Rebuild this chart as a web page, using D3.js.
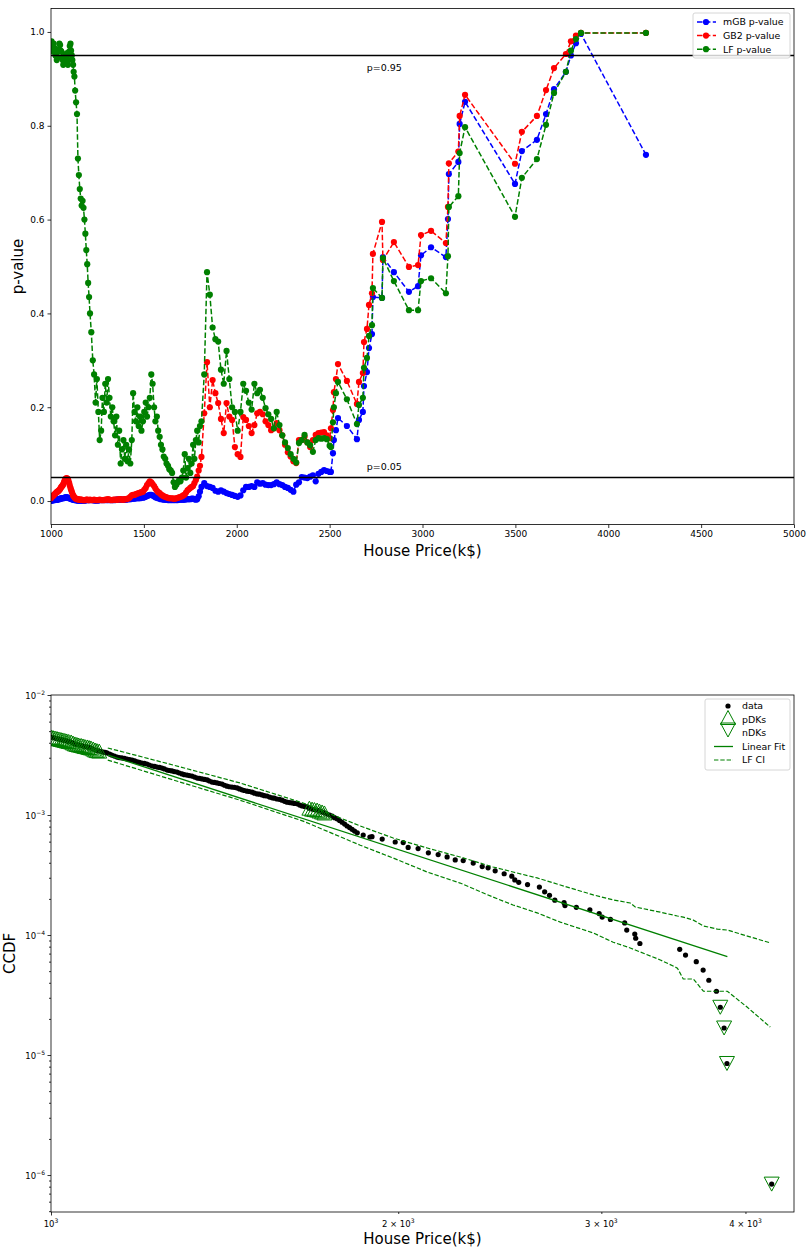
<!DOCTYPE html>
<html>
<head>
<meta charset="utf-8">
<script src="https://cdn.jsdelivr.net/npm/d3@7"></script>
<style>
  body { margin: 0; background: #fff; }
  svg { font-family: "DejaVu Sans", sans-serif; }
</style>
</head>
<body>
<svg id="chart" width="808" height="1249"></svg>
<script>
// ---------- top panel: p-value against threshold ----------
const thresholds = [
  1000, 1003, 1007, 1010, 1014, 1017, 1021, 1024, 1028, 1031,
  1035, 1038, 1042, 1045, 1049, 1052, 1056, 1059, 1063, 1066,
  1070, 1073, 1077, 1080, 1084, 1087, 1091, 1094, 1098, 1101,
  1105, 1108, 1112, 1115, 1119, 1122, 1126,
  1130, 1135, 1140, 1145, 1150, 1155, 1160, 1165, 1170, 1175,
  1180, 1185, 1190, 1195, 1200, 1205,
  1210, 1217, 1225, 1232, 1240, 1247, 1255, 1262, 1270, 1277,
  1285, 1292, 1300, 1307, 1315, 1322, 1330, 1337, 1345, 1352,
  1360, 1367, 1375, 1382, 1390, 1397, 1405, 1412, 1420, 1427,
  1435, 1442, 1450, 1457, 1465, 1472, 1480, 1487, 1495, 1502,
  1510, 1517, 1525, 1532, 1540, 1547, 1555, 1562, 1570, 1577,
  1585, 1592, 1600, 1607, 1615, 1622, 1630, 1637, 1645, 1652,
  1660, 1667, 1675, 1682, 1690, 1697, 1705, 1712, 1720, 1727,
  1735, 1742, 1750, 1757, 1765, 1772, 1780, 1787, 1795, 1802,
  1810, 1825, 1840, 1855, 1870, 1885, 1900, 1915, 1930, 1945,
  1960, 1975, 1990, 2005, 2020, 2035, 2050, 2065, 2080, 2095,
  2110, 2125, 2140, 2155, 2170, 2185, 2200, 2215, 2230, 2245,
  2260, 2275, 2290, 2305, 2320, 2335, 2350, 2365, 2380, 2395,
  2410, 2425, 2440, 2455, 2470, 2485, 2500,
  2507, 2518, 2523, 2534, 2545, 2593, 2647, 2658, 2679, 2685,
  2701, 2712, 2728, 2733, 2782, 2787, 2846, 2927, 2976, 2992,
  3046, 3126, 3137, 3142, 3193, 3200, 3229, 3498, 3535, 3616,
  3665, 3708, 3772, 3799, 3826, 3853, 4203
];

const pMGB = [
  0.001, 0.001, 0.001, 0.002, 0.002, 0.002, 0.002, 0.003, 0.003, 0.003,
  0.003, 0.004, 0.004, 0.004, 0.005, 0.005, 0.006, 0.006, 0.006, 0.006,
  0.007, 0.007, 0.008, 0.008, 0.008, 0.008, 0.007, 0.007, 0.006, 0.006,
  0.005, 0.005, 0.004, 0.004, 0.003, 0.003, 0.002,
  0.002, 0.002, 0.001, 0.001, 0.001, 0.001, 0.001, 0.001, 0.001, 0.001,
  0.001, 0.001, 0.002, 0.002, 0.002, 0.002,
  0.002, 0.002, 0.002, 0.001, 0.001, 0.001, 0.001, 0.002, 0.002, 0.002,
  0.002, 0.002, 0.002, 0.002, 0.002, 0.002, 0.002, 0.002, 0.002, 0.003,
  0.003, 0.003, 0.003, 0.003, 0.003, 0.003, 0.003, 0.004, 0.004, 0.004,
  0.005, 0.005, 0.005, 0.006, 0.006, 0.006, 0.006, 0.007, 0.007, 0.008,
  0.009, 0.011, 0.012, 0.013, 0.013, 0.012, 0.010, 0.008, 0.007, 0.006,
  0.005, 0.004, 0.004, 0.003, 0.003, 0.003, 0.002, 0.002, 0.002, 0.002,
  0.002, 0.002, 0.002, 0.002, 0.003, 0.003, 0.003, 0.003, 0.003, 0.004,
  0.004, 0.004, 0.004, 0.005, 0.005, 0.004, 0.003, 0.004, 0.010, 0.020,
  0.030, 0.038, 0.032, 0.030, 0.028, 0.022, 0.020, 0.023, 0.020, 0.017,
  0.015, 0.013, 0.011, 0.009, 0.012, 0.023, 0.030, 0.030, 0.032, 0.030,
  0.040, 0.037, 0.038, 0.035, 0.034, 0.034, 0.036, 0.040, 0.036, 0.034,
  0.030, 0.028, 0.024, 0.020, 0.035, 0.040, 0.051, 0.050, 0.049, 0.052,
  0.055, 0.042, 0.058, 0.062, 0.066, 0.064, 0.062,
  0.062, 0.102, 0.130, 0.151, 0.177, 0.160, 0.132, 0.173, 0.190, 0.245,
  0.275, 0.326, 0.356, 0.435, 0.433, 0.520, 0.488, 0.446, 0.458, 0.524,
  0.541, 0.520, 0.601, 0.697, 0.723, 0.804, 0.851, 0.676, 0.746, 0.770,
  0.825, 0.878, 0.915, 0.950, 0.976, 0.996, 0.738
];

const pGB2 = [
  0.006, 0.008, 0.010, 0.011, 0.012, 0.014, 0.015, 0.016, 0.018, 0.019,
  0.020, 0.021, 0.022, 0.024, 0.025, 0.028, 0.030, 0.032, 0.033, 0.036,
  0.040, 0.043, 0.046, 0.048, 0.049, 0.048, 0.047, 0.043, 0.038, 0.033,
  0.028, 0.024, 0.020, 0.016, 0.012, 0.010, 0.008,
  0.006, 0.005, 0.004, 0.004, 0.003, 0.003, 0.003, 0.003, 0.002, 0.002,
  0.002, 0.002, 0.003, 0.003, 0.002, 0.002,
  0.003, 0.002, 0.002, 0.003, 0.002, 0.002, 0.002, 0.003, 0.002, 0.002,
  0.002, 0.003, 0.003, 0.004, 0.003, 0.002, 0.002, 0.003, 0.003, 0.003,
  0.003, 0.004, 0.004, 0.003, 0.003, 0.004, 0.004, 0.005, 0.006, 0.009,
  0.012, 0.013, 0.013, 0.015, 0.016, 0.017, 0.018, 0.019, 0.020, 0.024,
  0.028, 0.034, 0.038, 0.042, 0.040, 0.036, 0.032, 0.027, 0.022, 0.019,
  0.017, 0.014, 0.012, 0.010, 0.009, 0.008, 0.007, 0.006, 0.006, 0.006,
  0.005, 0.005, 0.006, 0.007, 0.008, 0.009, 0.010, 0.012, 0.014, 0.018,
  0.023, 0.025, 0.028, 0.030, 0.032, 0.038, 0.045, 0.052, 0.065, 0.075,
  0.094, 0.187, 0.296, 0.200, 0.258, 0.230, 0.209, 0.175, 0.145, 0.209,
  0.180, 0.173, 0.115, 0.100, 0.094, 0.179, 0.173, 0.160, 0.145, 0.162,
  0.187, 0.190, 0.185, 0.170, 0.162, 0.151, 0.155, 0.166, 0.151, 0.140,
  0.120, 0.104, 0.095, 0.085, 0.081, 0.130, 0.130, 0.137, 0.125, 0.115,
  0.130, 0.141, 0.145, 0.146, 0.147, 0.140, 0.134,
  0.155, 0.194, 0.232, 0.260, 0.292, 0.256, 0.207, 0.254, 0.273, 0.339,
  0.367, 0.418, 0.443, 0.527, 0.595, 0.514, 0.552, 0.499, 0.503, 0.567,
  0.576, 0.550, 0.627, 0.720, 0.745, 0.821, 0.866, 0.719, 0.787, 0.821,
  0.876, 0.923, 0.953, 0.980, 0.992, 0.998, 0.998
];

const pLF = [
  0.972, 0.980, 0.968, 0.958, 0.975, 0.962, 0.965, 0.950, 0.955, 0.940,
  0.945, 0.958, 0.962, 0.975, 0.972, 0.960, 0.958, 0.945, 0.940, 0.930,
  0.935, 0.945, 0.952, 0.935, 0.945, 0.955, 0.930, 0.940, 0.958, 0.970,
  0.975, 0.960, 0.950, 0.940, 0.930, 0.915, 0.905,
  0.875, 0.850, 0.825, 0.730, 0.695, 0.665, 0.645, 0.630, 0.640, 0.625,
  0.600, 0.570, 0.535, 0.505, 0.465, 0.435,
  0.400, 0.360, 0.300, 0.270, 0.210, 0.260, 0.190, 0.130, 0.150, 0.220,
  0.190, 0.250, 0.210, 0.260, 0.220, 0.180, 0.200, 0.170, 0.140, 0.180,
  0.120, 0.150, 0.080, 0.110, 0.130, 0.090, 0.120, 0.085, 0.110, 0.080,
  0.130, 0.230, 0.190, 0.170, 0.200, 0.160, 0.180, 0.150, 0.170, 0.190,
  0.210, 0.180, 0.200, 0.220, 0.270, 0.250, 0.200, 0.170, 0.180, 0.150,
  0.137, 0.120, 0.110, 0.095, 0.090, 0.080, 0.075, 0.068, 0.065, 0.060,
  0.040, 0.030, 0.035, 0.040, 0.045, 0.042, 0.050, 0.065, 0.100, 0.050,
  0.070, 0.090, 0.060, 0.080, 0.120, 0.090, 0.130, 0.150, 0.125, 0.160,
  0.170, 0.270, 0.488, 0.440, 0.370, 0.345, 0.340, 0.280, 0.250, 0.320,
  0.260, 0.200, 0.190, 0.150, 0.190, 0.250, 0.235, 0.210, 0.195, 0.250,
  0.230, 0.237, 0.220, 0.198, 0.185, 0.175, 0.155, 0.190, 0.162, 0.140,
  0.125, 0.113, 0.100, 0.090, 0.082, 0.124, 0.130, 0.141, 0.125, 0.119,
  0.105, 0.130, 0.134, 0.133, 0.134, 0.132, 0.118,
  0.115, 0.168, 0.200, 0.230, 0.254, 0.217, 0.164, 0.205, 0.220, 0.284,
  0.305, 0.352, 0.375, 0.454, 0.433, 0.518, 0.469, 0.407, 0.407, 0.469,
  0.475, 0.443, 0.522, 0.627, 0.650, 0.742, 0.797, 0.606, 0.689, 0.729,
  0.802, 0.870, 0.915, 0.960, 0.985, 0.998, 0.998
];

const priceTicks = [1000, 1500, 2000, 2500, 3000, 3500, 4000, 4500, 5000];
const pTicks = [0.0, 0.2, 0.4, 0.6, 0.8, 1.0];
const pLines = [0.95, 0.05];

// ---------- bottom panel: CCDF ----------
const ccdfX = [
  1000, 1004, 1008, 1012, 1016, 1020, 1024, 1028, 1032, 1036,
  1041, 1045, 1049, 1053, 1057, 1062, 1066, 1070, 1075, 1079,
  1083, 1088, 1092, 1096, 1101, 1105, 1110, 1114, 1118, 1124,
  1129, 1135, 1141, 1146, 1152, 1158, 1164, 1170, 1176, 1182,
  1188, 1193, 1199, 1205, 1211, 1217, 1224, 1230, 1236, 1242,
  1248, 1254, 1261, 1267, 1273, 1279, 1286, 1292, 1299, 1305,
  1312, 1318, 1325, 1332, 1339, 1345, 1352, 1359, 1366, 1372,
  1379, 1386, 1393, 1400, 1407, 1414, 1421, 1428, 1435, 1442,
  1450, 1457, 1464, 1471, 1479, 1486, 1494, 1501, 1509, 1516,
  1524, 1531, 1539, 1547, 1555, 1562, 1570, 1578, 1586, 1594,
  1602, 1610, 1618, 1626, 1635, 1643, 1651, 1659, 1667, 1675,
  1684, 1692, 1701, 1709, 1718, 1726, 1735, 1744, 1753, 1761,
  1770, 1779, 1788, 1797, 1806, 1815, 1824, 1833, 1843, 1865,
  1890, 1898, 1937, 1988, 2020, 2040, 2081, 2124, 2166, 2205,
  2241, 2277, 2323, 2365, 2393, 2427, 2471, 2509, 2524, 2544,
  2589, 2651, 2679, 2705, 2734, 2785, 2790, 2854, 2932, 2987,
  3005, 3055, 3143, 3156, 3207, 3213, 3240, 3508, 3549, 3626,
  3676, 3718, 3775, 3804, 3833, 3855, 4215
];
const ccdfY = [
  4.47e-3, 4.42e-3, 4.38e-3, 4.34e-3, 4.30e-3, 4.26e-3, 4.22e-3, 4.18e-3, 4.14e-3, 4.10e-3,
  4.06e-3, 3.98e-3, 3.91e-3, 3.87e-3, 3.83e-3, 3.80e-3, 3.76e-3, 3.72e-3, 3.69e-3, 3.65e-3,
  3.62e-3, 3.55e-3, 3.48e-3, 3.44e-3, 3.41e-3, 3.38e-3, 3.35e-3, 3.32e-3, 3.29e-3, 3.22e-3,
  3.16e-3, 3.10e-3, 3.04e-3, 3.01e-3, 2.99e-3, 2.96e-3, 2.93e-3, 2.90e-3, 2.87e-3, 2.82e-3,
  2.77e-3, 2.74e-3, 2.71e-3, 2.69e-3, 2.66e-3, 2.61e-3, 2.56e-3, 2.54e-3, 2.51e-3, 2.49e-3,
  2.46e-3, 2.42e-3, 2.37e-3, 2.35e-3, 2.33e-3, 2.30e-3, 2.28e-3, 2.24e-3, 2.20e-3, 2.17e-3,
  2.15e-3, 2.13e-3, 2.11e-3, 2.07e-3, 2.03e-3, 2.02e-3, 2.00e-3, 1.98e-3, 1.96e-3, 1.92e-3,
  1.88e-3, 1.87e-3, 1.85e-3, 1.83e-3, 1.81e-3, 1.77e-3, 1.74e-3, 1.72e-3, 1.71e-3, 1.70e-3,
  1.68e-3, 1.65e-3, 1.62e-3, 1.60e-3, 1.58e-3, 1.57e-3, 1.55e-3, 1.52e-3, 1.50e-3, 1.49e-3,
  1.47e-3, 1.45e-3, 1.44e-3, 1.41e-3, 1.39e-3, 1.38e-3, 1.36e-3, 1.35e-3, 1.33e-3, 1.30e-3,
  1.28e-3, 1.27e-3, 1.26e-3, 1.25e-3, 1.24e-3, 1.21e-3, 1.19e-3, 1.18e-3, 1.17e-3, 1.14e-3,
  1.12e-3, 1.11e-3, 1.10e-3, 1.08e-3, 1.06e-3, 1.04e-3, 1.02e-3, 1.00e-3, 9.8e-4, 9.5e-4,
  9.3e-4, 9.0e-4, 8.7e-4, 8.4e-4, 8.1e-4, 7.85e-4, 7.6e-4, 7.35e-4, 7.1e-4, 6.8e-4,
  6.56e-4, 6.6e-4, 6.3e-4, 5.96e-4, 5.89e-4, 5.37e-4, 5.25e-4, 4.84e-4, 4.68e-4, 4.47e-4,
  4.22e-4, 4.17e-4, 3.98e-4, 3.72e-4, 3.63e-4, 3.43e-4, 3.24e-4, 3.09e-4, 2.88e-4, 2.75e-4,
  2.63e-4, 2.51e-4, 2.29e-4, 2.14e-4, 1.95e-4, 1.86e-4, 1.76e-4, 1.70e-4, 1.62e-4, 1.51e-4,
  1.41e-4, 1.35e-4, 1.26e-4, 1.10e-4, 1.02e-4, 9.4e-5, 8.5e-5, 7.6e-5, 6.8e-5, 6.0e-5,
  5.1e-5, 4.2e-5, 3.4e-5, 2.5e-5, 1.68e-5, 8.5e-6, 8.4e-7
];

// points flagged as DKs (subset of the data above)
const pdkX = [1000, 1004, 1008, 1012, 1016, 1020, 1024, 1028, 1032, 1036,
  1041, 1045, 1049, 1053, 1057, 1062, 1066, 1070, 1075, 1079,
  1083, 1088, 1092, 1096, 1101,
  1675, 1684, 1692, 1701, 1709, 1718, 1726];
const ndkX = [3804, 3833, 3855, 4215];

const fitX = [1120, 3858];
const fitY = [3.16e-3, 6.6e-5];

const ciX = [1120, 1276, 1458, 1654, 1854, 1980, 2119, 2263, 2417, 2515,
  2639, 2764, 2952, 3072, 3178, 3210, 3375, 3492, 3533, 3605,
  3678, 3782, 3858, 4015, 4203];
const ciUpper = [3.62e-3, 2.61e-3, 1.85e-3, 1.26e-3, 8.1e-4, 6.43e-4, 5.31e-4, 4.47e-4, 3.69e-4, 3.35e-4,
  2.99e-4, 2.61e-4, 2.16e-4, 1.96e-4, 1.85e-4, 1.71e-4, 1.55e-4, 1.44e-4, 1.41e-4, 1.33e-4,
  1.19e-4, 1.12e-4, 1.10e-4, 9.8e-5, 8.6e-5];
const ciLower = [2.87e-3, 1.96e-3, 1.33e-3, 8.9e-4, 5.6e-4, 4.38e-4, 3.35e-4, 2.71e-4, 2.07e-4, 1.78e-4,
  1.53e-4, 1.28e-4, 1.04e-4, 8.7e-5, 7.8e-5, 7.5e-5, 6.2e-5, 5.3e-5, 4.3e-5, 4.3e-5,
  3.4e-5, 3.4e-5, 3.4e-5, 2.5e-5, 1.71e-5];

const ccdfMajor = [1e-2, 1e-3, 1e-4, 1e-5, 1e-6];
const priceLogTicks = [1000, 2000, 3000, 4000];
const priceLogLabels = [['10', '3'], ['2 \u00d7 10', '3'], ['3 \u00d7 10', '3'], ['4 \u00d7 10', '3']];

const GREEN = '#008000';
const svg = d3.select('#chart');

// =================== top panel ===================
const a1 = { left: 51, right: 794, top: 8.5, bottom: 524.5 };
const x1 = d3.scaleLinear().domain([1000, 5000]).range([a1.left, a1.right]);
const y1 = d3.scaleLinear().domain([-0.05, 1.05]).range([a1.bottom, a1.top]);

svg.append('clipPath').attr('id', 'clip1').append('rect')
  .attr('x', a1.left).attr('y', a1.top)
  .attr('width', a1.right - a1.left).attr('height', a1.bottom - a1.top);

const g1 = svg.append('g');

const xAxis1 = g1.append('g')
  .attr('transform', 'translate(0,' + a1.bottom + ')')
  .call(d3.axisBottom(x1).tickValues(priceTicks).tickSize(3.5).tickPadding(3).tickFormat(d3.format('d')));
const yAxis1 = g1.append('g')
  .attr('transform', 'translate(' + a1.left + ',0)')
  .call(d3.axisLeft(y1).tickValues(pTicks).tickSize(3.5).tickPadding(3).tickFormat(d3.format('.1f')));
[xAxis1, yAxis1].forEach(function(ax) {
  ax.select('.domain').remove();
  ax.selectAll('text').attr('font-size', 9).attr('fill', '#000').attr('font-family', 'DejaVu Sans');
  ax.selectAll('line').attr('stroke', '#000').attr('stroke-width', 0.8);
});

const plot1 = g1.append('g').attr('clip-path', 'url(#clip1)');

const series = [
  { name: 'mGB p-value', values: pMGB, color: '#0000ff' },
  { name: 'GB2 p-value', values: pGB2, color: '#ff0000' },
  { name: 'LF p-value', values: pLF, color: GREEN }
];

const line1 = d3.line()
  .x(function(d) { return x1(d[0]); })
  .y(function(d) { return y1(d[1]); });

series.forEach(function(s) {
  const pts = thresholds.map(function(t, i) { return [t, s.values[i]]; });
  plot1.append('path')
    .datum(pts)
    .attr('d', line1)
    .attr('fill', 'none')
    .attr('stroke', s.color)
    .attr('stroke-width', 1.5)
    .attr('stroke-dasharray', '5.5,2.4');
  plot1.append('g').selectAll('circle')
    .data(pts)
    .enter()
    .append('circle')
    .attr('cx', function(d) { return x1(d[0]); })
    .attr('cy', function(d) { return y1(d[1]); })
    .attr('r', 3.1)
    .attr('fill', s.color);
});

// significance lines
plot1.selectAll('line.sig')
  .data(pLines)
  .enter()
  .append('line')
  .attr('class', 'sig')
  .attr('x1', a1.left).attr('x2', a1.right)
  .attr('y1', function(d) { return y1(d); })
  .attr('y2', function(d) { return y1(d); })
  .attr('stroke', '#000')
  .attr('stroke-width', 1.5);

g1.append('text').attr('x', x1(2700)).attr('y', y1(0.917))
  .attr('font-size', 9.5).text('p=0.95');
g1.append('text').attr('x', x1(2700)).attr('y', y1(0.066))
  .attr('font-size', 9.5).text('p=0.05');

g1.append('rect')
  .attr('x', a1.left).attr('y', a1.top)
  .attr('width', a1.right - a1.left).attr('height', a1.bottom - a1.top)
  .attr('fill', 'none').attr('stroke', '#000').attr('stroke-width', 0.8);

g1.append('text')
  .attr('x', (a1.left + a1.right) / 2).attr('y', 556)
  .attr('text-anchor', 'middle').attr('font-size', 15)
  .text('House Price(k$)');
g1.append('text')
  .attr('transform', 'translate(23,' + ((a1.top + a1.bottom) / 2) + ') rotate(-90)')
  .attr('text-anchor', 'middle').attr('font-size', 15)
  .text('p-value');

// legend top
const leg1 = g1.append('g');
leg1.append('rect')
  .attr('x', 693).attr('y', 13).attr('width', 97).attr('height', 45).attr('rx', 2)
  .attr('fill', '#fff').attr('fill-opacity', 0.8)
  .attr('stroke', '#cccccc').attr('stroke-width', 0.8);
series.forEach(function(s, i) {
  const yy = 22 + i * 13.6;
  leg1.append('line')
    .attr('x1', 697).attr('x2', 716).attr('y1', yy).attr('y2', yy)
    .attr('stroke', s.color).attr('stroke-width', 1.5).attr('stroke-dasharray', '5.5,2.4');
  leg1.append('circle').attr('cx', 706).attr('cy', yy).attr('r', 3.1).attr('fill', s.color);
  leg1.append('text').attr('x', 723).attr('y', yy + 3.4)
    .attr('font-size', 9.4).text(s.name);
});

// =================== bottom panel ===================
const a2 = { left: 51, right: 794, top: 695, bottom: 1212 };
const x2 = d3.scaleLog().domain([1000, 4407]).range([a2.left, a2.right]);
const y2 = d3.scaleLog().domain([4.92e-7, 1e-2]).range([a2.bottom, a2.top]);

svg.append('clipPath').attr('id', 'clip2').append('rect')
  .attr('x', a2.left).attr('y', a2.top)
  .attr('width', a2.right - a2.left).attr('height', a2.bottom - a2.top);

const g2 = svg.append('g');

// minor y ticks
const yMinor = [];
for (let k = -7; k <= -3; k++) {
  for (let m = 2; m <= 9; m++) {
    const v = m * Math.pow(10, k);
    if (v > 4.92e-7 && v < 1e-2) yMinor.push(v);
  }
}
const yAxis2 = g2.append('g')
  .attr('transform', 'translate(' + a2.left + ',0)')
  .call(d3.axisLeft(y2).tickValues(ccdfMajor).tickSize(3.5).tickFormat(''));
const yAxis2m = g2.append('g')
  .attr('transform', 'translate(' + a2.left + ',0)')
  .call(d3.axisLeft(y2).tickValues(yMinor).tickSize(2).tickFormat(''));
const xAxis2 = g2.append('g')
  .attr('transform', 'translate(0,' + a2.bottom + ')')
  .call(d3.axisBottom(x2).tickValues([1000]).tickSize(3.5).tickFormat(''));
const xAxis2m = g2.append('g')
  .attr('transform', 'translate(0,' + a2.bottom + ')')
  .call(d3.axisBottom(x2).tickValues([2000, 3000, 4000]).tickSize(2).tickFormat(''));
[yAxis2, yAxis2m, xAxis2, xAxis2m].forEach(function(ax) {
  ax.select('.domain').remove();
  ax.selectAll('line').attr('stroke', '#000').attr('stroke-width', 0.8);
});

// y tick labels as 10^k
ccdfMajor.forEach(function(v) {
  const t = g2.append('text')
    .attr('x', a2.left - 6).attr('y', y2(v) + 3.5)
    .attr('text-anchor', 'end').attr('font-size', 8.5);
  t.append('tspan').text('10');
  t.append('tspan').attr('dy', -4).attr('font-size', 6).text('\u2212' + Math.round(-Math.log10(v)));
});
priceLogTicks.forEach(function(v, i) {
  const t = g2.append('text')
    .attr('x', x2(v)).attr('y', a2.bottom + 15)
    .attr('text-anchor', 'middle').attr('font-size', 8.5);
  t.append('tspan').text(priceLogLabels[i][0]);
  t.append('tspan').attr('dy', -4).attr('font-size', 6).text(priceLogLabels[i][1]);
});

const plot2 = g2.append('g').attr('clip-path', 'url(#clip2)');

const line2 = d3.line()
  .x(function(d) { return x2(d[0]); })
  .y(function(d) { return y2(d[1]); });

// data points
plot2.append('g').selectAll('circle')
  .data(ccdfX.map(function(x, i) { return [x, ccdfY[i]]; }))
  .enter()
  .append('circle')
  .attr('cx', function(d) { return x2(d[0]); })
  .attr('cy', function(d) { return y2(d[1]); })
  .attr('r', 2.6)
  .attr('fill', '#000');

function triPath(up) {
  // open triangle marker, about 15px wide
  const w = 7.5, h = 7;
  return up ? 'M0,' + (-h) + 'L' + w + ',' + h + 'L' + (-w) + ',' + h + 'Z'
            : 'M0,' + h + 'L' + w + ',' + (-h) + 'L' + (-w) + ',' + (-h) + 'Z';
}
function lookup(x) { return [x, ccdfY[ccdfX.indexOf(x)]]; }

plot2.append('g').selectAll('path')
  .data(pdkX.map(lookup))
  .enter()
  .append('path')
  .attr('d', triPath(true))
  .attr('transform', function(d) { return 'translate(' + x2(d[0]) + ',' + y2(d[1]) + ')'; })
  .attr('fill', 'none').attr('stroke', GREEN).attr('stroke-width', 1);

plot2.append('g').selectAll('path')
  .data(ndkX.map(lookup))
  .enter()
  .append('path')
  .attr('d', triPath(false))
  .attr('transform', function(d) { return 'translate(' + x2(d[0]) + ',' + y2(d[1]) + ')'; })
  .attr('fill', 'none').attr('stroke', GREEN).attr('stroke-width', 1);

plot2.append('path')
  .datum(fitX.map(function(x, i) { return [x, fitY[i]]; }))
  .attr('d', line2)
  .attr('fill', 'none').attr('stroke', GREEN).attr('stroke-width', 1.3);

[ciUpper, ciLower].forEach(function(arr) {
  plot2.append('path')
    .datum(ciX.map(function(x, i) { return [x, arr[i]]; }))
    .attr('d', line2)
    .attr('fill', 'none').attr('stroke', GREEN).attr('stroke-width', 1.2)
    .attr('stroke-dasharray', '4.4,1.9');
});

g2.append('rect')
  .attr('x', a2.left).attr('y', a2.top)
  .attr('width', a2.right - a2.left).attr('height', a2.bottom - a2.top)
  .attr('fill', 'none').attr('stroke', '#000').attr('stroke-width', 0.8);

g2.append('text')
  .attr('x', (a2.left + a2.right) / 2).attr('y', 1244)
  .attr('text-anchor', 'middle').attr('font-size', 15)
  .text('House Price(k$)');
g2.append('text')
  .attr('transform', 'translate(15,' + ((a2.top + a2.bottom) / 2) + ') rotate(-90)')
  .attr('text-anchor', 'middle').attr('font-size', 15)
  .text('CCDF');

// legend bottom
const leg2 = g2.append('g');
leg2.append('rect')
  .attr('x', 705).attr('y', 699).attr('width', 85).attr('height', 71).attr('rx', 2)
  .attr('fill', '#fff').attr('fill-opacity', 0.8)
  .attr('stroke', '#cccccc').attr('stroke-width', 0.8);
const legItems = ['data', 'pDKs', 'nDKs', 'Linear Fit', 'LF CI'];
const legRows = [706, 719.5, 733, 746.5, 760];
legItems.forEach(function(name, i) {
  const yy = legRows[i];
  leg2.append('text').attr('x', 742).attr('y', yy + 3.4).attr('font-size', 9.4).text(name);
  if (i === 0) {
    leg2.append('circle').attr('cx', 728).attr('cy', yy).attr('r', 2.6).attr('fill', '#000');
  } else if (i === 1 || i === 2) {
    leg2.append('path').attr('d', triPath(i === 1))
      .attr('transform', 'translate(728,' + (yy - (i === 1 ? 2 : 3)) + ')')
      .attr('fill', 'none').attr('stroke', GREEN).attr('stroke-width', 1);
  } else {
    leg2.append('line').attr('x1', 714).attr('x2', 733).attr('y1', yy).attr('y2', yy)
      .attr('stroke', GREEN).attr('stroke-width', i === 3 ? 1.3 : 1.2)
      .attr('stroke-dasharray', i === 4 ? '4.4,1.9' : null);
  }
});
</script>
</body>
</html>
